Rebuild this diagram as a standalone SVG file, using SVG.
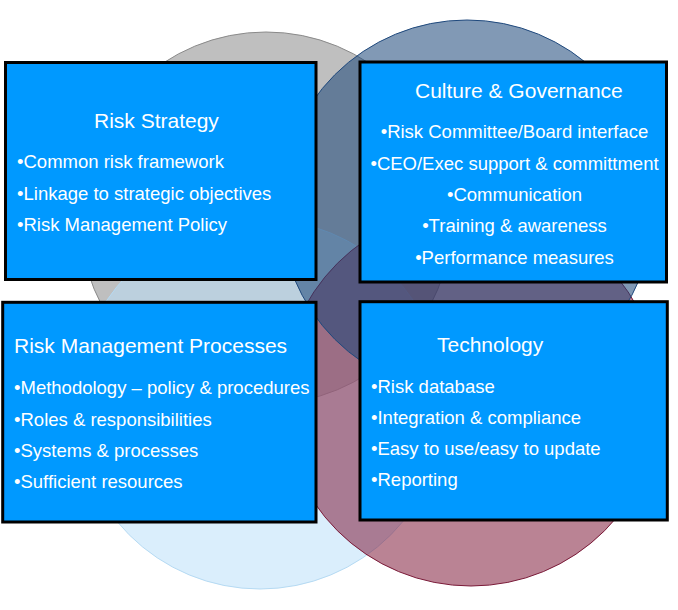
<svg xmlns="http://www.w3.org/2000/svg" width="678" height="610" viewBox="0 0 678 610">
<style>
.box{fill:#0099FF;stroke:#000000;stroke-width:3}
.t{font-family:"Liberation Sans",Arial,sans-serif;fill:#FFFFFF}
.h{font-size:21px}
.b{font-size:18.5px}
.c{text-anchor:middle}
</style>
<rect width="678" height="610" fill="#FFFFFF"/>
<g id="circles">
<circle id="c-gray" cx="266" cy="218" r="186" fill="#808080" fill-opacity="0.5" stroke="#8A8A8A" stroke-width="1"/>
<circle id="c-lightblue" cx="260" cy="404" r="185" fill="#B9DFF9" fill-opacity="0.53" stroke="#B5DAF3" stroke-width="1"/>
<circle id="c-maroon" cx="471" cy="397" r="189" fill="#821E3C" fill-opacity="0.55" stroke="#7A1A38" stroke-width="1"/>
<circle id="c-darkblue" cx="467" cy="207" r="187" fill="#1A4678" fill-opacity="0.55" stroke="#1F497D" stroke-width="1"/>
</g>
<g id="connectors"></g>
<g id="risk-strategy">
<rect class="box" x="5.5" y="62.5" width="310.5" height="217"/>
<text class="t h" x="94" y="128">Risk Strategy</text>
<text class="t b" x="17" y="168">•Common risk framework</text>
<text class="t b" x="17" y="199.5">•Linkage to strategic objectives</text>
<text class="t b" x="17" y="231">•Risk Management Policy</text>
</g>
<g id="culture-governance">
<rect class="box" x="360" y="62" width="306.5" height="220"/>
<text class="t h" x="415" y="98">Culture &amp; Governance</text>
<text class="t b c" x="514.5" y="138">•Risk Committee/Board interface</text>
<text class="t b c" x="514.5" y="169.5">•CEO/Exec support &amp; committment</text>
<text class="t b c" x="514.5" y="201">•Communication</text>
<text class="t b c" x="514.5" y="232">•Training &amp; awareness</text>
<text class="t b c" x="514.5" y="263.5">•Performance measures</text>
</g>
<g id="risk-management-processes">
<rect class="box" x="2.7" y="302.3" width="313.3" height="219.7"/>
<text class="t h" x="14" y="353">Risk Management Processes</text>
<text class="t b" x="14" y="394">•Methodology – policy &amp; procedures</text>
<text class="t b" x="14" y="425.5">•Roles &amp; responsibilities</text>
<text class="t b" x="14" y="456.5">•Systems &amp; processes</text>
<text class="t b" x="14" y="488">•Sufficient resources</text>
</g>
<g id="technology">
<rect class="box" x="360" y="301.7" width="307.3" height="218.3"/>
<text class="t h" x="437" y="352">Technology</text>
<text class="t b" x="371" y="392.5">•Risk database</text>
<text class="t b" x="371" y="423.5">•Integration &amp; compliance</text>
<text class="t b" x="371" y="454.5">•Easy to use/easy to update</text>
<text class="t b" x="371" y="486">•Reporting</text>
</g>
</svg>
